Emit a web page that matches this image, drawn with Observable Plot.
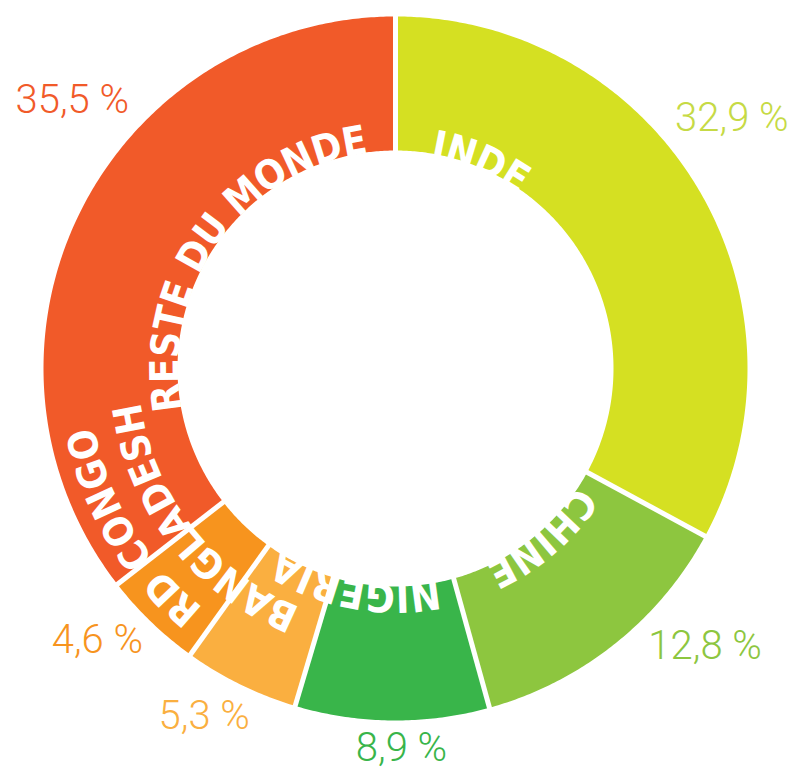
<!DOCTYPE html>
<html><head><meta charset="utf-8">
<script src="https://cdn.jsdelivr.net/npm/d3@7"></script>
<script src="https://cdn.jsdelivr.net/npm/@observablehq/plot@0.6"></script>
<style>body{margin:0;background:#fff}#chart svg{display:block}</style>
</head><body><div id="chart"></div>
<script>
// ---- data ----
const categories = ["INDE", "CHINE", "NIGERIA", "BANGLADESH", "RD CONGO", "RESTE DU MONDE"];
const shares = [32.9, 12.8, 8.9, 5.3, 4.6, 35.5];
const shareLabels = ["32,9 %", "12,8 %", "8,9 %", "5,3 %", "4,6 %", "35,5 %"];
const palette = ["#D5E022", "#8DC63F", "#39B54A", "#FAAF40", "#F7941E", "#F15A29"];
const labelPalette = ["#C6DA45", "#8DC63F", "#39B54A", "#FAAF40", "#F7941E", "#F15A29"];

// ---- layout ----
const W = 798, H = 770, CX = 395, CY = 368, R_OUT = 352, R_IN = 218;
const nameStartDeg = [9.5, 4.6, 4.2, 5.3, 3.2, 27];
const nameRadius = [226, 228, 228, 270, 320, 230];
const pctAngleDeg = [53.4, 131.9, 179.1, 208.8, 227.7, 309.7];
const pctRadius = [419, 416, 380, 397, 403, 420];
const nameFont = "'DejaVu Sans Condensed', 'Liberation Sans Narrow', 'DejaVu Sans', sans-serif";
const nameSize = 40;
const pctFont = "Roboto, 'Open Sans', sans-serif";

const rad = d => d * Math.PI / 180;
const px = (r, a) => r * Math.sin(rad(a));
const py = (r, a) => r * Math.cos(rad(a));

const total = d3.sum(shares);
let acc = 0;
const slices = categories.map((name, i) => {
  const a0 = acc / total * 360; acc += shares[i];
  const a1 = acc / total * 360;
  return {name, i, a0, a1, color: palette[i]};
});

function polygon(s) {
  const pts = [];
  const n = Math.max(4, Math.ceil((s.a1 - s.a0) / 0.5));
  for (let k = 0; k <= n; k++) { const a = s.a0 + (s.a1 - s.a0) * k / n; pts.push({x: px(R_OUT, a), y: py(R_OUT, a)}); }
  for (let k = n; k >= 0; k--) { const a = s.a0 + (s.a1 - s.a0) * k / n; pts.push({x: px(R_IN, a), y: py(R_IN, a)}); }
  return pts;
}

const seps = slices.map(s => ({x1: px(R_IN - 6, s.a0), y1: py(R_IN - 6, s.a0), x2: px(R_OUT + 6, s.a0), y2: py(R_OUT + 6, s.a0)}));

const ctx = document.createElement("canvas").getContext("2d");
ctx.font = `bold ${nameSize}px ${nameFont}`;
const chars = [];
slices.forEach((s, i) => {
  const r = nameRadius[i];
  const start = s.a0 + nameStartDeg[i];
  let arc = 0;
  for (const ch of s.name) {
    const w = ctx.measureText(ch).width;
    const a = start + (arc + w / 2) / r * 180 / Math.PI;
    if (ch !== " ") chars.push({ch, x: px(r, a), y: py(r, a), rot: a});
    arc += w + 1;
  }
});

const pcts = slices.map((s, i) => ({text: shareLabels[i], x: px(pctRadius[i], pctAngleDeg[i]), y: py(pctRadius[i], pctAngleDeg[i]), color: labelPalette[i]}));

const chart = Plot.plot({
  width: W, height: H, margin: 0,
  x: {domain: [-CX, W - CX], axis: null},
  y: {domain: [-(H - CY), CY], axis: null},
  color: {type: "identity"},
  marks: [
    ...slices.map(s => Plot.line(polygon(s), {x: "x", y: "y", fill: s.color, stroke: "none", curve: "linear-closed"})),
    Plot.link(seps, {x1: "x1", y1: "y1", x2: "x2", y2: "y2", stroke: "white", strokeWidth: 5}),
    Plot.text(chars, {x: "x", y: "y", text: "ch", rotate: "rot", fill: "white", fontSize: nameSize, fontWeight: "bold", fontFamily: nameFont, textAnchor: "middle", lineAnchor: "middle"}),
    Plot.text(pcts, {x: "x", y: "y", text: "text", fill: "color", fontSize: 40, fontWeight: 300, fontFamily: pctFont, textAnchor: "middle", lineAnchor: "middle"})
  ]
});
document.getElementById("chart").append(chart);
</script>
</body></html>
